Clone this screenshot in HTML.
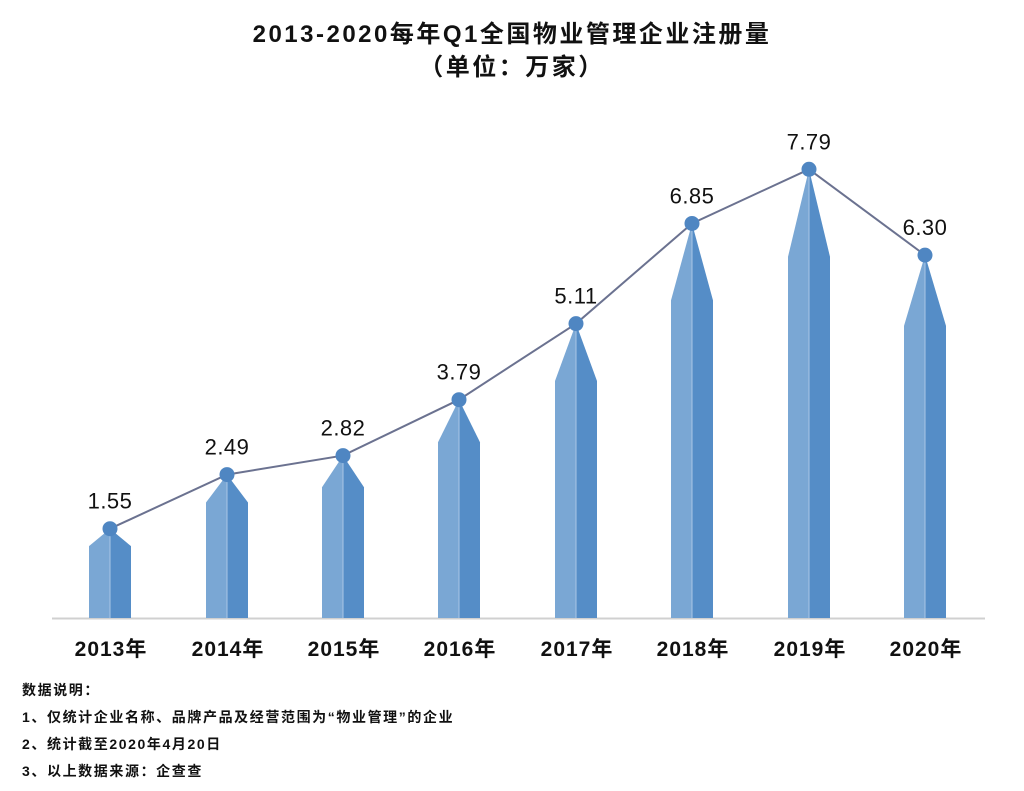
<!DOCTYPE html><html><head><meta charset="utf-8"><style>body{margin:0;background:#fff;width:1024px;height:786px;overflow:hidden}</style></head><body>
<svg width="1024" height="786" xmlns="http://www.w3.org/2000/svg" font-family="'Liberation Sans','Noto Sans CJK SC',sans-serif">
<text x="512" y="42" text-anchor="middle" font-size="24" font-weight="bold" fill="#111" letter-spacing="2.5">2013-2020每年Q1全国物业管理企业注册量</text>
<text x="512" y="75" text-anchor="middle" font-size="24" font-weight="bold" fill="#111" letter-spacing="2.5">（单位：万家）</text>
<line x1="52" y1="618.5" x2="985" y2="618.5" stroke="#d0d0d0" stroke-width="2"/>
<g id="bars"></g>
<g font-size="21" fill="#111" text-anchor="middle" font-weight="bold" letter-spacing="1">
<text x="111" y="656">2013年</text><text x="228" y="656">2014年</text><text x="344" y="656">2015年</text><text x="460" y="656">2016年</text><text x="577" y="656">2017年</text><text x="693" y="656">2018年</text><text x="810" y="656">2019年</text><text x="926" y="656">2020年</text>
</g>
<g font-size="14" font-weight="bold" fill="#111" letter-spacing="1.6">
<text x="22" y="695">数据说明：</text>
<text x="22" y="722">1、仅统计企业名称、品牌产品及经营范围为“物业管理”的企业</text>
<text x="22" y="749">2、统计截至2020年4月20日</text>
<text x="22" y="776">3、以上数据来源：企查查</text>
</g>
</svg>
<script>
const v=[1.55,2.49,2.82,3.79,5.11,6.85,7.79,6.30],cx=[110,227,343,459,576,692,809,925];
const g=document.getElementById('bars');let s='',pts=[];
v.forEach((d,i)=>{const h=d*57.6,top=618-h,sh=top+h*0.195,x=cx[i];pts.push(x+','+top);
s+=`<polygon points="${x-21},618 ${x-21},${sh} ${x},${top} ${x},618" fill="#7aa7d4"/>`;
s+=`<polygon points="${x},618 ${x},${top} ${x+21},${sh} ${x+21},618" fill="#558dc7"/>`;
s+=`<line x1="${x}" y1="${top}" x2="${x}" y2="618" stroke="#a9c6e6" stroke-width="1"/>`;});
s+=`<polyline points="${pts.join(' ')}" fill="none" stroke="#6b7290" stroke-width="2"/>`;
v.forEach((d,i)=>{const top=618-d*57.6;s+=`<circle cx="${cx[i]}" cy="${top}" r="7.5" fill="#4f86c2"/><text x="${cx[i]}" y="${top-20}" text-anchor="middle" font-size="22" fill="#111" letter-spacing="0.5">${d.toFixed(2)}</text>`;});
g.innerHTML=s;
</script>
</body></html>
